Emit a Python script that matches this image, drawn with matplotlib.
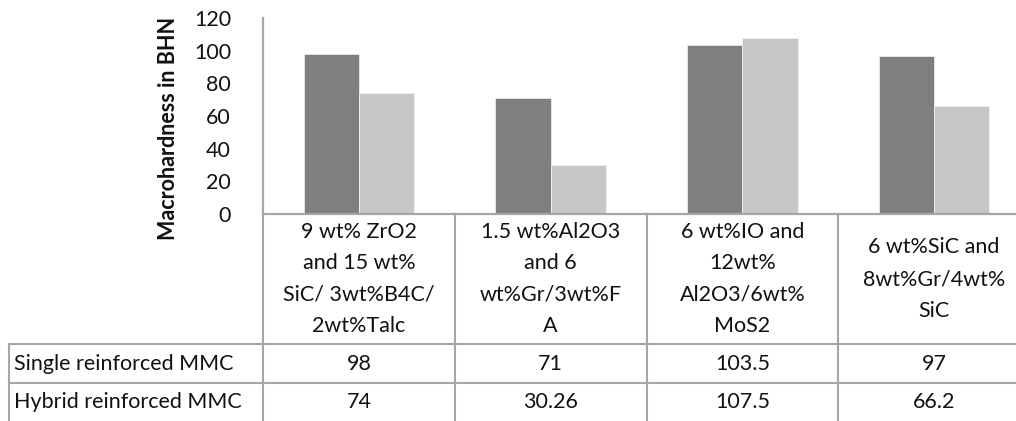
import matplotlib.pyplot as plt
import numpy as np

# Macrohardness of single vs hybrid reinforced MMCs, Excel-style bar chart with data table

categories = [
    "9 wt% ZrO2\nand 15 wt%\nSiC/ 3wt%B4C/\n2wt%Talc",
    "1.5 wt%Al2O3\nand 6\nwt%Gr/3wt%F\nA",
    "6 wt%IO and\n12wt%\nAl2O3/6wt%\nMoS2",
    "6 wt%SiC and\n8wt%Gr/4wt%\nSiC",
]
series_names = ["Single reinforced MMC", "Hybrid reinforced MMC"]
single = [98, 71, 103.5, 97]
hybrid = [74, 30.26, 107.5, 66.2]
table_text = [["98", "71", "103.5", "97"],
              ["74", "30.26", "107.5", "66.2"]]

plt.rcParams['font.family'] = ['Lato', 'DejaVu Sans']
fs = 15.5
txt_col = '#111111'
line_col = '#a6a6a6'

W, H = 1016, 421
fig = plt.figure(figsize=(W / 100, H / 100), dpi=100)
# axes placed in pixel terms: y axis at x=263, zero line at y=214, top at y=18
ax = fig.add_axes([263 / W, 1 - 214 / H, 767 / W, 196 / H])

x = np.arange(len(categories))
bw = 0.2875
ax.bar(x - bw / 2, single, bw, color='#7f7f7f', edgecolor='#e8e8e8', linewidth=0.6)
ax.bar(x + bw / 2, hybrid, bw, color='#c5c7c6', edgecolor='#f2f2f2', linewidth=0.6)

ax.set_xlim(-0.5, len(categories) - 0.5)
ax.set_ylim(0, 120)
ax.set_yticks(range(0, 121, 20))
ax.tick_params(axis='y', length=0, pad=23, labelsize=fs, colors=txt_col)
ax.set_xticks([])
for s in ['top', 'right']:
    ax.spines[s].set_visible(False)
for s in ['left', 'bottom']:
    ax.spines[s].set_color(line_col)
    ax.spines[s].set_linewidth(1.6)

ax.set_ylabel("Macrohardness in BHN", fontsize=fs, fontweight='bold', color=txt_col)
ax.yaxis.set_label_coords(-0.11, 0.436)

# data table under the plot
trans = ax.get_xaxis_transform()
head_h = 130 / 196
row_h = 39 / 196
left_x = -0.5 - 254 / 191.75  # left edge of row-label column, in data units
lw = 1.5

# header row: category labels
for i, cat in enumerate(categories):
    ax.text(i, -head_h / 2, cat, transform=trans, ha='center', va='center',
            fontsize=fs, linespacing=1.72, color=txt_col)
for b in np.arange(-0.5, len(categories), 1.0):
    ax.plot([b, b], [0, -head_h - 2 * row_h - 0.1], transform=trans,
            color=line_col, lw=lw, clip_on=False)

# value rows
for r, name in enumerate(series_names):
    y_top = -head_h - r * row_h
    ax.plot([left_x, len(categories) - 0.5], [y_top, y_top], transform=trans,
            color=line_col, lw=lw, clip_on=False)
    ax.text(left_x + 0.025, y_top - row_h / 2, name, transform=trans,
            ha='left', va='center', fontsize=fs, color=txt_col)
    for i, v in enumerate(table_text[r]):
        ax.text(i, y_top - row_h / 2, v, transform=trans, ha='center',
                va='center', fontsize=fs, color=txt_col)
ax.plot([left_x, left_x], [-head_h, -head_h - 2 * row_h - 0.1], transform=trans,
        color=line_col, lw=lw, clip_on=False)

fig.savefig("out.png", dpi=100)
